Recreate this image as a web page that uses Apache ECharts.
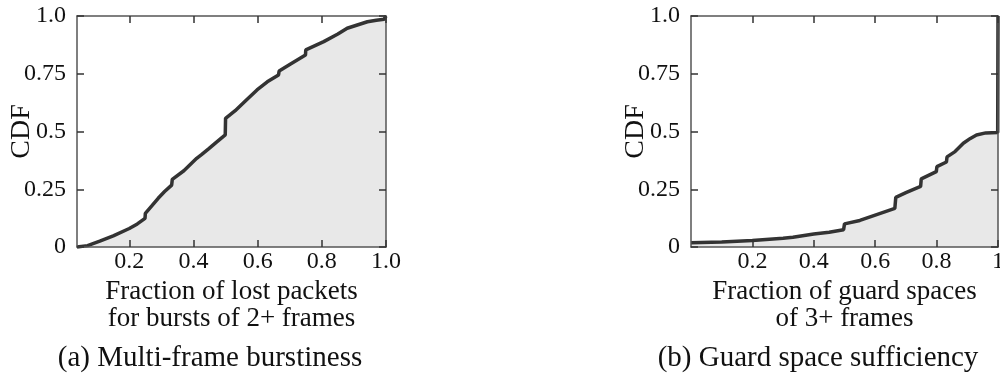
<!DOCTYPE html>
<html><head><meta charset="utf-8">
<script src="https://cdn.jsdelivr.net/npm/echarts@6/dist/echarts.min.js"></script>
<style>html,body{margin:0;padding:0;background:#fff}#c{width:1000px;height:378px}</style>
</head><body><div id="c"></div>
<script>
// Panel (a): Multi-frame burstiness
const burstX   = [0.037,0.07,0.108,0.15,0.2,0.225,0.249,0.25,0.27,0.29,0.31,0.332,0.334,0.37,0.41,0.425,0.447,0.47,0.499,0.5,0.53,0.56,0.598,0.63,0.665,0.667,0.7,0.749,0.75,0.806,0.85,0.879,0.942,0.97,0.994,1.0];
const burstCDF = [0,0.006,0.025,0.048,0.08,0.1,0.124,0.146,0.178,0.211,0.24,0.268,0.293,0.33,0.384,0.4,0.425,0.452,0.485,0.557,0.59,0.63,0.68,0.715,0.745,0.762,0.79,0.831,0.853,0.889,0.922,0.947,0.975,0.982,0.986,1.0];
// Panel (b): Guard space sufficiency
const guardX   = [0,0.1,0.2,0.3,0.332,0.334,0.4,0.45,0.497,0.5,0.55,0.6,0.664,0.667,0.7,0.748,0.75,0.799,0.801,0.832,0.834,0.86,0.887,0.91,0.93,0.96,0.999,1.0];
const guardCDF = [0.018,0.022,0.028,0.038,0.042,0.048,0.056,0.064,0.075,0.1,0.115,0.138,0.167,0.215,0.235,0.262,0.295,0.326,0.348,0.368,0.39,0.413,0.449,0.47,0.485,0.494,0.496,1.0];

const xTicksA = [0.2,0.4,0.6,0.8,1.0];
const xLabelsA = ['0.2','0.4','0.6','0.8','1.0'];
const xTicksB = [0.2,0.4,0.6,0.8,1.0];
const xLabelsB = ['0.2','0.4','0.6','0.8','1'];
const yLabels = {0:'0',0.25:'0.25',0.5:'0.5',0.75:'0.75',1:'1.0'};

const xNameA = 'Fraction of lost packets\nfor bursts of 2+ frames';
const xNameB = 'Fraction of guard spaces\nof 3+ frames';
const yName = 'CDF';
const captionA = '(a) Multi-frame burstiness';
const captionB = '(b) Guard space sufficiency';

const FONT = 'Liberation Serif';
const lineCol = '#555';
const pairs = (xs, ys) => xs.map((x, i) => [x, ys[i]]);
const tick = (extra) => Object.assign({show:true, inside:true, length:7, lineStyle:{color:'#333', width:1.5}}, extra || {});

function xAxes(grid, min, ticks, labels, name) {
  return [{
    type:'value', gridIndex:grid, min:min, max:1, position:'bottom', z:10,
    axisLine:{show:true, onZero:false, lineStyle:{color:lineCol, width:1.5}},
    axisTick:tick({customValues:ticks}),
    axisLabel:{show:true, customValues:ticks, margin:3, fontFamily:FONT, fontSize:24, color:'#111',
      formatter:(v)=>{const i=ticks.findIndex(t=>Math.abs(t-v)<1e-9);return i>=0?labels[i]:'';}},
    splitLine:{show:false},
    name:name, nameLocation:'middle', nameGap:31, nameMoveOverlap:false,
    nameTextStyle:{fontFamily:FONT, fontSize:27, color:'#111', lineHeight:27}
  },{
    type:'value', gridIndex:grid, min:min, max:1, position:'top', z:10,
    axisLine:{show:true, onZero:false, lineStyle:{color:lineCol, width:1.5}},
    axisTick:tick({customValues:ticks}),
    axisLabel:{show:false}, splitLine:{show:false}
  }];
}
function yAxes(grid) {
  return [{
    type:'value', gridIndex:grid, min:0, max:1, interval:0.25, position:'left', z:10,
    axisLine:{show:true, onZero:false, lineStyle:{color:lineCol, width:1.5}},
    axisTick:tick(),
    axisLabel:{show:true, margin:11, fontFamily:FONT, fontSize:24, color:'#111',
      formatter:(v)=> yLabels[v] !== undefined ? yLabels[v] : ''},
    splitLine:{show:false},
    name:yName, nameLocation:'middle', nameGap:41, nameRotate:90, nameMoveOverlap:false,
    nameTextStyle:{fontFamily:FONT, fontSize:28, color:'#111'}
  },{
    type:'value', gridIndex:grid, min:0, max:1, interval:0.25, position:'right', z:10,
    axisLine:{show:true, onZero:false, lineStyle:{color:lineCol, width:1.5}},
    axisTick:tick(),
    axisLabel:{show:false}, splitLine:{show:false}
  }];
}

const chart = echarts.init(document.getElementById('c'), null, {renderer:'canvas'});
chart.setOption({
  animation:false,
  backgroundColor:'#fff',
  title:[
    {text:captionA, left:205, top:339, textAlign:'center', textStyle:{fontFamily:FONT, fontSize:29, fontWeight:'normal', color:'#111'}},
    {text:captionB, left:813, top:339, textAlign:'center', textStyle:{fontFamily:FONT, fontSize:29, fontWeight:'normal', color:'#111'}}
  ],
  grid:[
    {left:77, width:309, top:16, height:231, outerBoundsMode:'none'},
    {left:691, width:307, top:16, height:231, outerBoundsMode:'none'}
  ],
  xAxis:[...xAxes(0, 0.037, xTicksA, xLabelsA, xNameA), ...xAxes(1, 0, xTicksB, xLabelsB, xNameB)],
  yAxis:[...yAxes(0), ...yAxes(1)],
  series:[
    {type:'line', xAxisIndex:0, yAxisIndex:0, data:pairs(burstX, burstCDF), showSymbol:false, clip:false,
     lineStyle:{color:'#333', width:3.5}, areaStyle:{color:'#e8e8e8', opacity:1, origin:'start'}},
    {type:'line', xAxisIndex:2, yAxisIndex:2, data:pairs(guardX, guardCDF), showSymbol:false, clip:false,
     lineStyle:{color:'#333', width:3.5}, areaStyle:{color:'#e8e8e8', opacity:1, origin:'start'}}
  ]
});
</script></body></html>
